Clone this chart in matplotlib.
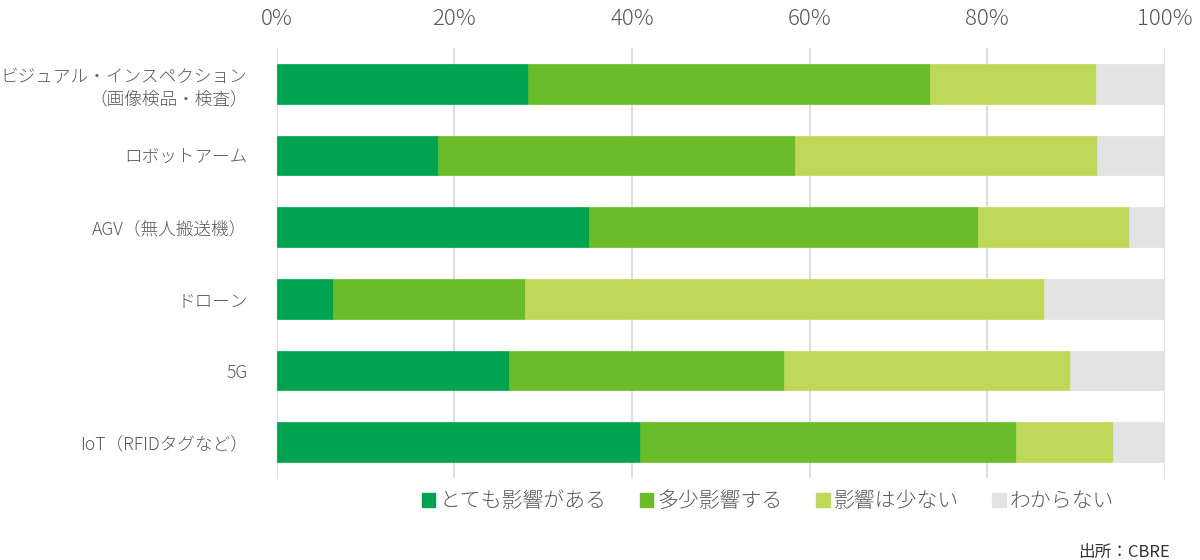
import matplotlib
matplotlib.use("Agg")
import matplotlib.pyplot as plt
from matplotlib.patches import Patch
from matplotlib.ticker import PercentFormatter

plt.rcParams['font.family'] = ['Noto Sans CJK JP', 'DejaVu Sans']

categories = ["ビジュアル・インスペクション\n（画像検品・検査）", "ロボットアーム", "AGV（無人搬送機）",
              "ドローン", "5G", "IoT（RFIDタグなど）"]
series_names = ["とても影響がある", "多少影響する", "影響は少ない", "わからない"]
very = [28.3, 18.2, 35.2, 6.3, 26.1, 40.9]
some = [45.3, 40.1, 43.7, 21.7, 31.0, 42.3]
little = [18.6, 34.0, 17.1, 58.4, 32.2, 11.0]
unknown = [7.8, 7.7, 4.0, 13.6, 10.7, 5.8]
colors = ["#00A350", "#6ABD28", "#BFD857", "#E3E3E3"]
tick_values = [0, 20, 40, 60, 80, 100]

fig = plt.figure(figsize=(12, 5.6), dpi=100)
ax = fig.add_axes([0.2306, 0.1464, 0.7402, 0.7679])

y = list(range(len(categories)))
left = [0.0] * len(categories)
for vals, col, name in zip([very, some, little, unknown], colors, series_names):
    ax.barh(y, vals, left=left, height=0.55, color=col, edgecolor=col, linewidth=0.5,
            label=name, zorder=3)
    left = [l + v for l, v in zip(left, vals)]

ax.set_xlim(0, 100)
ax.set_ylim(len(categories) - 0.5, -0.5)
ax.set_xticks(tick_values)
ax.xaxis.set_major_formatter(PercentFormatter(decimals=0))
ax.xaxis.tick_top()
ax.tick_params(axis='x', length=0, pad=13, labelsize=16, labelcolor="#595959")
ax.tick_params(axis='y', length=0, pad=21, labelsize=12.7, labelcolor="#595959")
ax.set_yticks(y)
ax.set_yticklabels(categories, ha='right', linespacing=1.3)
for t in ax.get_xticklabels() + ax.get_yticklabels():
    t.set_fontweight('light')
ax.grid(axis='x', color="#D9D9D9", linewidth=1.2, zorder=0)
for s in ax.spines.values():
    s.set_visible(False)

handles = [Patch(facecolor=c, edgecolor=c) for c in colors]
leg = fig.legend(handles, series_names, loc='center', bbox_to_anchor=(768 / 1200, 1 - 501 / 560),
                 ncol=4, frameon=False, handlelength=0.65, handleheight=0.65, handletextpad=0.2,
                 columnspacing=1.6, prop={'size': 15, 'weight': 'light'})
for t in leg.get_texts():
    t.set_color("#595959")

fig.text(1170 / 1200, 1 - 552 / 560, "出所：CBRE", ha='right', va='center', fontsize=12, color="#333333")

fig.savefig("out.png", dpi=100)
